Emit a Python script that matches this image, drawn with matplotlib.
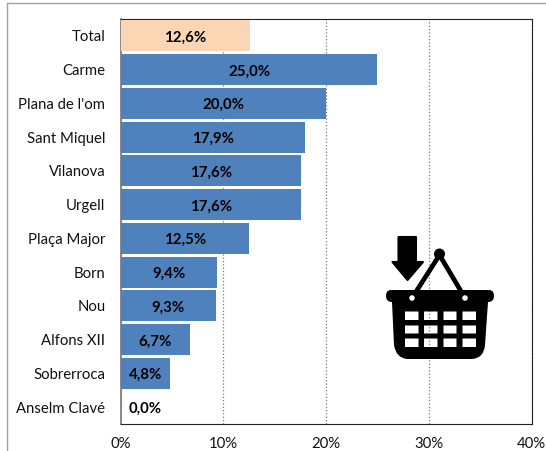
import matplotlib
matplotlib.use('Agg')
import matplotlib.pyplot as plt
from matplotlib.lines import Line2D
from matplotlib.patches import Circle, PathPatch, Polygon
from matplotlib.path import Path

plt.rcParams['font.family'] = ['Lato', 'DejaVu Sans']

# Données
categories = ['Total', 'Carme', "Plana de l'om", 'Sant Miquel', 'Vilanova', 'Urgell',
              'Plaça Major', 'Born', 'Nou', 'Alfons XII', 'Sobrerroca', 'Anselm Clavé']
valeurs = [12.6, 25.0, 20.0, 17.9, 17.6, 17.6, 12.5, 9.4, 9.3, 6.7, 4.8, 0.0]
ticks_x = [0, 10, 20, 30, 40]

W, H = 546, 451
fig = plt.figure(figsize=(W / 100, H / 100), dpi=100)
ax = fig.add_axes([120.7 / W, 1 - 424 / H, (531.5 - 120.7) / W, (424 - 19) / H])

couleurs = ['#FCD5B5'] + ['#4F81BD'] * (len(valeurs) - 1)
pos = range(len(valeurs))
ax.barh(pos, valeurs, height=0.92, color=couleurs, zorder=3)
ax.set_ylim(len(valeurs) - 0.5, -0.5)
ax.set_xlim(0, 40)

for i, v in enumerate(valeurs):
    texte = f'{v:.1f}%'.replace('.', ',')
    ax.text(max(v / 2, 2.4), i + 0.05, texte, ha='center', va='center',
            fontsize=10.8, fontweight='bold', color='black', zorder=4)

ax.set_yticks(list(pos))
ax.set_yticklabels(categories, fontsize=10.7, color='#111111')
ax.set_xticks(ticks_x)
ax.set_xticklabels([f'{t}%' for t in ticks_x], fontsize=10.7, color='#111111')
ax.tick_params(axis='both', length=0)
ax.tick_params(axis='y', pad=11)
ax.tick_params(axis='x', pad=9)
ax.grid(True, axis='x', linestyle=':', color='#777777', linewidth=0.9, zorder=1)
for s in ['top', 'right', 'bottom']:
    ax.spines[s].set_color('#222222')
ax.spines['left'].set_color('#888888')
ax.spines['left'].set_linewidth(1.4)

# Cadre extérieur
fig.add_artist(Line2D([6.5 / W, 6.5 / W, 1], [0, 1 - 2.5 / H, 1 - 2.5 / H], color='#A0A0A0', linewidth=1.0))

# Icône du panier (coordonnées en pixels)
ic = fig.add_axes([0, 0, 1, 1], facecolor='none')
ic.set_xlim(0, W)
ic.set_ylim(H, 0)
ic.axis('off')

# flèche
ic.add_patch(Polygon([(398.5, 237), (416, 237), (416, 262), (423, 262), (407.5, 280),
                      (392.5, 262), (398.5, 262)], closed=True, facecolor='black',
                     edgecolor='black', linewidth=1.5, joinstyle='round'))

# anse
ic.plot([412, 439.5, 465], [298, 255, 298], color='black', linewidth=3.4, solid_capstyle='round')
ic.add_patch(Circle((439.5, 254), 5.5, color='black', lw=0))

# corps du panier, fenêtres en sens inverse pour laisser voir le fond
sommets = [(391, 290), (489, 290), (494, 290), (494, 296), (494, 302), (488, 302),
           (485, 345), (484, 358), (472, 359), (407, 359), (396, 358), (394, 345),
           (392, 302), (386, 302), (386, 296), (386, 290), (391, 290)]
codes = [Path.MOVETO, Path.LINETO, Path.CURVE3, Path.CURVE3, Path.CURVE3, Path.CURVE3,
         Path.LINETO, Path.CURVE3, Path.CURVE3, Path.LINETO, Path.CURVE3, Path.CURVE3,
         Path.LINETO, Path.CURVE3, Path.CURVE3, Path.CURVE3, Path.CURVE3]
for y0, y1 in [(311.5, 320), (325.5, 333.5), (338.5, 347)]:
    for x0, x1 in [(405, 418.5), (424, 437.5), (443.5, 456.5), (462.5, 476)]:
        sommets += [(x0, y0), (x0, y1), (x1, y1), (x1, y0), (x0, y0)]
        codes += [Path.MOVETO, Path.LINETO, Path.LINETO, Path.LINETO, Path.CLOSEPOLY]
ic.add_patch(PathPatch(Path(sommets, codes), facecolor='black', edgecolor='none'))

# anneaux
for x in [412, 465]:
    ic.add_patch(Circle((x, 298), 4.6, facecolor='white', edgecolor='black', linewidth=2.6, zorder=3))

fig.savefig('out.png', dpi=100)
